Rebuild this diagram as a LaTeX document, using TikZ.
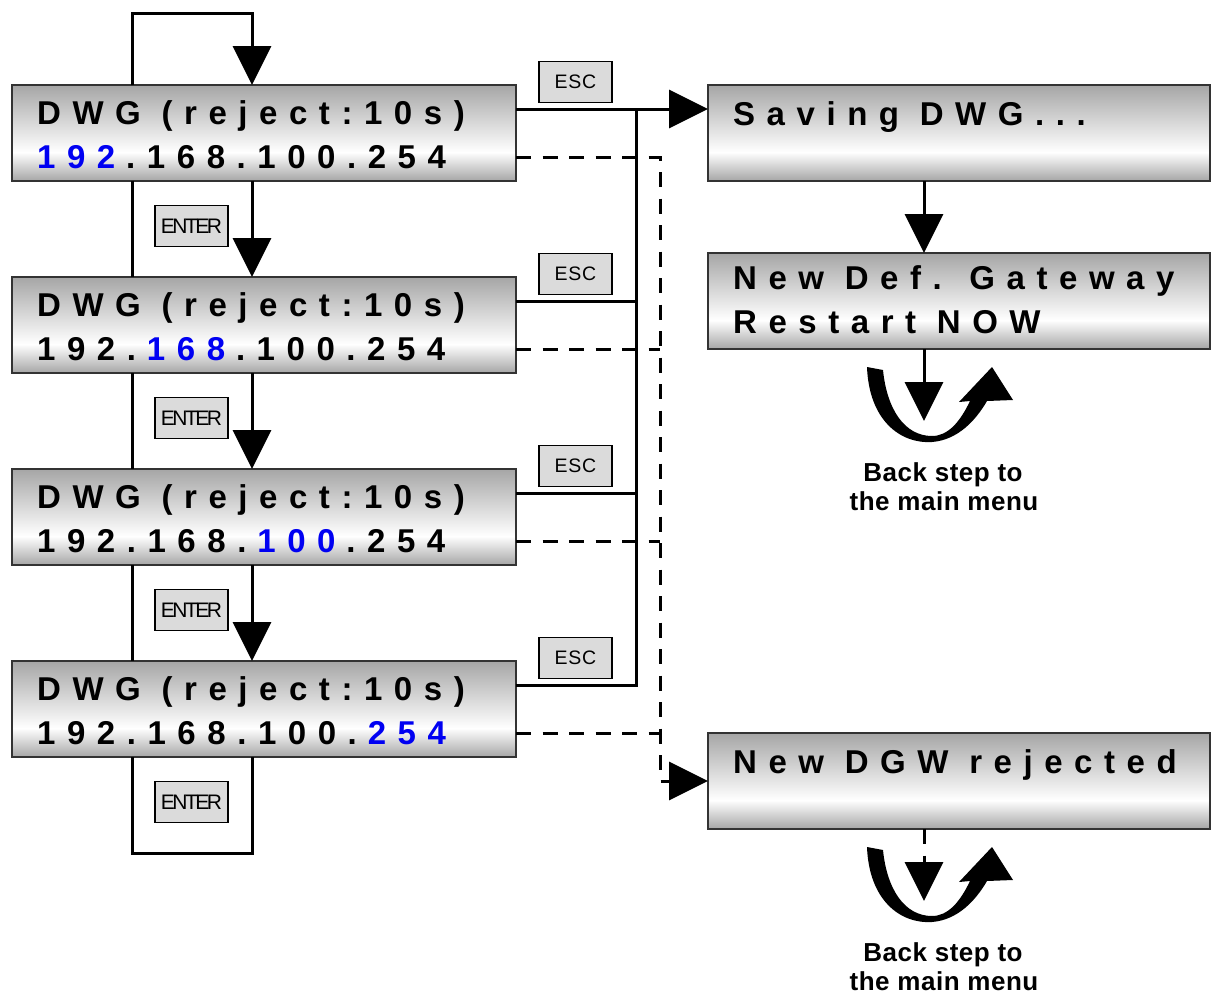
\documentclass[tikz,border=0pt]{standalone}
\usepackage{fontspec}
\setmainfont{Liberation Sans}
\usetikzlibrary{arrows.meta,calc}

% display faces
\newfontfamily\lcdface{Liberation Sans}[LetterSpace=35]
\newfontfamily\escface{Liberation Sans}[LetterSpace=4]
\newfontfamily\enterface{Liberation Sans}[LetterSpace=-12]
\newfontfamily\noteface{Liberation Sans}[LetterSpace=2]

\definecolor{lcdgray}{gray}{0.65}
\definecolor{keygray}{gray}{0.86}
\definecolor{digitblue}{rgb}{0,0,0.95}
\definecolor{frame}{gray}{0.2}

% tracking lost where the colour changes
\newcommand\trk{\kern0.33em}
\newcommand\hi[1]{\textcolor{digitblue}{#1}}

% display panel: grey at the edges, white towards the lower part
\pgfdeclareverticalshading{lcd}{100bp}{color(0bp)=(lcdgray); color(25bp)=(lcdgray); color(40bp)=(white); color(75bp)=(lcdgray); color(100bp)=(lcdgray)}

\begin{document}
\begin{tikzpicture}[x=1pt,y=-1pt,
  screen/.style={draw=frame, line width=1.6pt, shade, shading=lcd,
    minimum height=96pt, inner sep=0pt, outer sep=0pt},
  leftscreen/.style={screen, minimum width=504pt},
  rightscreen/.style={screen, minimum width=502pt},
  lcdtext/.style={anchor=base west, inner sep=0pt,
    font=\lcdface\bfseries\fontsize{33}{38}\selectfont},
  key/.style={draw=black, line width=1.5pt, fill=keygray, inner sep=0pt,
    minimum width=73pt, minimum height=41pt},
  esckey/.style={key, font=\escface\fontsize{19.5}{22}\selectfont},
  enterkey/.style={key, font=\enterface\fontsize{21}{24}\selectfont},
  wire/.style={line width=3pt},
  bigtip/.style={-{Triangle[length=39pt,width=38pt]}},
  arr/.style={wire, bigtip},
  dwire/.style={wire, dash pattern=on 15pt off 11.5pt},
  note/.style={anchor=base, inner sep=0pt,
    font=\noteface\bfseries\fontsize{26}{31}\selectfont},
  pics/backstep/.style={code={
    \fill (-57,18) .. controls (-55,71) and (-24,95) .. (8,93)
      .. controls (34,91) and (52,71) .. (63,52)
      -- (89,51) -- (68,18) -- (35,53) -- (46,52)
      .. controls (36,73) and (24,87) .. (8,87)
      .. controls (-19,87) and (-37,61) .. (-41,21) -- cycle;
  }}
]
\useasboundingbox (0,0) rectangle (1211,996);

% ---- entry screens (left column) ----
\node[leftscreen] (s1) at (264,133) {};
\node[leftscreen] (s2) at (264,325) {};
\node[leftscreen] (s3) at (264,517) {};
\node[leftscreen] (s4) at (264,709) {};

\node[lcdtext] (s1a) at (37,124) {DWG (reject:10s)};
\node[lcdtext] (s1b) at (37,168) {\hi{192}\trk.168.100.254};
\node[lcdtext] (s2a) at (37,316) {DWG (reject:10s)};
\node[lcdtext] (s2b) at (37,360) {192.\trk\hi{168}\trk.100.254};
\node[lcdtext] (s3a) at (37,508) {DWG (reject:10s)};
\node[lcdtext] (s3b) at (37,552) {192.168.\trk\hi{100}\trk.254};
\node[lcdtext] (s4a) at (37,700) {DWG (reject:10s)};
\node[lcdtext] (s4b) at (37,744) {192.168.100.\trk\hi{254}};

% ---- result screens (right column) ----
\node[rightscreen] (r1) at (959,133) {};
\node[rightscreen] (r2) at (959,301) {};
\node[rightscreen] (r3) at (959,781) {};

\node[lcdtext] (r1a) at (733,125) {Saving DWG...};
\node[lcdtext] (r2a) at (733,289) {New Def. Gateway};
\node[lcdtext] (r2b) at (733,333) {Restart NOW};
\node[lcdtext] (r3a) at (733,773) {New DGW rejected};

% ---- keys ----
\node[esckey] (k1) at (575.5,82) {ESC};
\node[esckey] (k2) at (575.5,274) {ESC};
\node[esckey] (k3) at (575.5,466) {ESC};
\node[esckey] (k4) at (575.5,658) {ESC};
\node[enterkey] (n1) at (191.5,226) {ENTER};
\node[enterkey] (n2) at (191.5,418) {ENTER};
\node[enterkey] (n3) at (191.5,610) {ENTER};
\node[enterkey] (n4) at (191.5,802) {ENTER};

% ---- guide columns ----
\coordinate (lx) at (132,0);
\coordinate (rx) at (252,0);
\coordinate (bus) at (636,0);
\coordinate (dbus) at (660,0);
\coordinate (ax) at (924,0);
\coordinate (topturn) at (252,13);
\coordinate (botturn) at (252,853);

% ENTER loops
\draw[arr] (s1.north -| lx) |- (topturn) -- (s1.north -| rx);
\draw[wire] (s1.south -| lx) -- (s2.north -| lx);
\draw[arr]  (s1.south -| rx) -- (s2.north -| rx);
\draw[wire] (s2.south -| lx) -- (s3.north -| lx);
\draw[arr]  (s2.south -| rx) -- (s3.north -| rx);
\draw[wire] (s3.south -| lx) -- (s4.north -| lx);
\draw[arr]  (s3.south -| rx) -- (s4.north -| rx);
\draw[wire] (s4.south -| lx) |- (botturn) -- (s4.south -| rx);

% ESC taps
\coordinate (e1) at ($(s1.north east)+(0,24)$);
\coordinate (e2) at ($(s2.north east)+(0,24)$);
\coordinate (e3) at ($(s3.north east)+(0,24)$);
\coordinate (e4) at ($(s4.north east)+(0,24)$);
\draw[arr] (e1) -- (e1 -| r1.west);
\draw[wire] (e2) -- (e2 -| bus);
\draw[wire] (e3) -- (e3 -| bus);
\draw[wire] (e4) -| (e1 -| bus);

% timeout taps
\coordinate (d1) at ($(s1.north east)+(0,72)$);
\coordinate (d2) at ($(s2.north east)+(0,72)$);
\coordinate (d3) at ($(s3.north east)+(0,72)$);
\coordinate (d4) at ($(s4.north east)+(0,72)$);
\draw[dwire, bigtip] (d1) -| (r3.west -| dbus) -- (r3.west);
\draw[dwire] (d2) -- (d2 -| dbus);
\draw[dwire] (d3) -- (d3 -| dbus);
\draw[dwire] (d4) -- (d4 -| dbus);

% saving sequence
\draw[arr] (r1.south -| ax) -- (r2.north -| ax);
\coordinate (u1) at (924,421);
\coordinate (u2) at (924,901);
\draw[arr] (r2.south -| ax) -- (u1);
\draw[dwire, bigtip] (r3.south -| ax) -- (u2);

% return symbols
\pic at (r2.south -| ax) {backstep};
\pic at (r3.south -| ax) {backstep};

\node[note] (m1a) at (943,481) {Back step to};
\node[note] (m1b) at (944,510) {the main menu};
\node[note] (m2a) at (943,961) {Back step to};
\node[note] (m2b) at (944,990) {the main menu};
\end{tikzpicture}
\end{document}
